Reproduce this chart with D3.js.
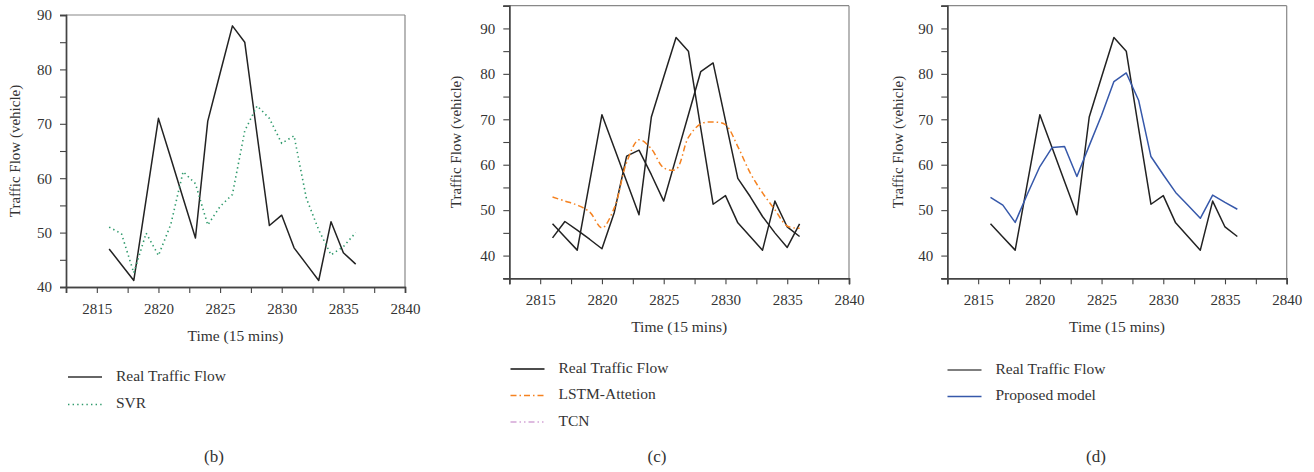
<!DOCTYPE html>
<html>
<head>
<meta charset="utf-8">
<script src="https://cdn.jsdelivr.net/npm/d3@7/dist/d3.min.js"></script>
<style>
  html, body { margin: 0; padding: 0; background: #fff; }
  svg { display: block; }
  text { font-family: "Liberation Serif", "Times New Roman", serif; fill: #333; }
</style>
</head>
<body>
<svg id="chart" width="1314" height="472"></svg>
<script>
// ---- data ----
const time = [2816, 2817, 2818, 2819, 2820, 2821, 2822, 2823, 2824, 2825, 2826,
              2827, 2828, 2829, 2830, 2831, 2832, 2833, 2834, 2835, 2836];
const realFlow = [47.0, 44.1, 41.2, 56.1, 71.0, 63.7, 56.3, 49.0, 70.5, 79.3, 88.0,
                  85.0, 68.0, 51.3, 53.2, 47.2, 44.2, 41.2, 52.0, 46.3, 44.2];
const svr = [51.0, 49.8, 42.6, 49.9, 45.8, 51.5, 61.2, 59.0, 51.4, 54.8, 57.0,
             68.7, 73.3, 71.0, 66.4, 67.8, 56.3, 50.5, 45.9, 47.4, 50.0];
const lstmAttention = [52.9, 52.0, 51.1, 49.6, 46.1, 50.5, 60.5, 65.5, 63.5, 59.3, 59.0,
                       66.0, 69.0, 69.4, 68.8, 64.0, 58.2, 53.8, 50.1, 46.5, 46.0];
const tcn = [43.9, 47.5, 45.6, 43.6, 41.5, 49.5, 61.9, 63.2, 57.8, 52.0, 61.5,
             71.0, 80.5, 82.4, 69.7, 57.0, 53.0, 48.6, 45.0, 41.8, 47.0];
const proposed = [52.8, 51.1, 47.3, 53.6, 59.6, 63.8, 64.0, 57.4, 64.2, 70.9, 78.3,
                  80.2, 74.2, 61.8, 57.8, 53.9, 51.1, 48.2, 53.3, 51.7, 50.2];
const xTicks = [2815, 2820, 2825, 2830, 2835, 2840];
const xMinorTicks = [2812.5, 2817.5, 2822.5, 2827.5, 2832.5, 2837.5];
const yTicks = [40, 50, 60, 70, 80, 90];
const xLabel = "Time (15 mins)";
const yLabel = "Traffic Flow (vehicle)";

const svg = d3.select("#chart");

function zip(ys) { return time.map((t, i) => ({ t, v: ys[i] })); }

function drawPanel(p) {
  const g = svg.append("g").attr("transform", `translate(${p.left},${p.top})`);
  const x = d3.scaleLinear().domain([2812.5, 2840]).range([0, p.w]);
  const y = d3.scaleLinear().domain(p.yDomain).range([p.h, 0]);

  // frame top/right
  g.append("line").attr("x1", 0).attr("x2", p.w).attr("y1", 0).attr("y2", 0)
    .attr("stroke", "#888").attr("stroke-width", 1.2);
  g.append("line").attr("x1", p.w).attr("x2", p.w).attr("y1", 0).attr("y2", p.h)
    .attr("stroke", "#888").attr("stroke-width", 1.2);

  const yMinor = d3.range(p.yDomain[0], p.yDomain[1] + 0.01, 5).filter(v => v % 10 !== 0);

  const xa = g.append("g").attr("transform", `translate(0,${p.h})`)
    .call(d3.axisBottom(x).tickValues(xTicks).tickSize(6).tickPadding(10).tickFormat(d3.format("d")));
  g.append("g").attr("transform", `translate(0,${p.h})`)
    .call(d3.axisBottom(x).tickValues(xMinorTicks).tickSize(6).tickFormat(""));
  const ya = g.append("g")
    .call(d3.axisLeft(y).tickValues(yTicks).tickSize(6).tickPadding(8));
  g.append("g")
    .call(d3.axisLeft(y).tickValues(yMinor).tickSize(6).tickFormat(""));

  g.selectAll(".domain").attr("stroke", "#444").attr("stroke-width", 1.4);
  g.selectAll(".tick line").attr("stroke", "#444").attr("stroke-width", 1.1);
  g.selectAll(".tick text").style("font-size", "15px")
    .style("font-family", '"Liberation Serif", serif').attr("fill", "#333");

  g.append("text").attr("x", p.w / 2).attr("y", p.h + 50)
    .attr("text-anchor", "middle").attr("dominant-baseline", "middle")
    .style("font-size", "15.5px").text(xLabel);
  g.append("text")
    .attr("transform", `translate(${-p.yTitle},${p.h / 2}) rotate(-90)`)
    .attr("text-anchor", "middle").attr("dominant-baseline", "middle")
    .style("font-size", "15px").text(yLabel);

  p.series.forEach(s => {
    const line = d3.line().x(d => x(d.t)).y(d => y(d.v)).curve(s.curve || d3.curveLinear);
    g.append("path").datum(zip(s.values))
      .attr("fill", "none").attr("stroke", s.color).attr("stroke-width", s.width || 1.5)
      .attr("stroke-dasharray", s.dash || null)
      .attr("stroke-linecap", s.cap || "butt")
      .attr("stroke-linejoin", "round")
      .attr("d", line);
  });

  // legend
  p.legend.forEach((l, i) => {
    const ly = p.legendY + i * p.legendGap;
    svg.append("line").attr("x1", p.legendX).attr("x2", p.legendX + 34)
      .attr("y1", ly).attr("y2", ly)
      .attr("stroke", l.color).attr("stroke-width", 1.6)
      .attr("stroke-dasharray", l.dash || null);
    svg.append("text").attr("x", p.legendX + 48).attr("y", ly)
      .attr("dominant-baseline", "middle").style("font-size", "15.5px").text(l.name);
  });
  svg.append("text").attr("x", p.labelX).attr("y", 458)
    .attr("text-anchor", "middle").attr("dominant-baseline", "middle")
    .style("font-size", "17px").text(p.label);
}

const realColor = "#222";
drawPanel({
  left: 66, top: 15, w: 339, h: 272, yDomain: [40, 90], yTitle: 49,
  series: [
    { values: realFlow, color: realColor },
    { values: svr, color: "#2f9a6c", dash: "1.4,3.2", width: 1.6 }
  ],
  legend: [
    { name: "Real Traffic Flow", color: "#333" },
    { name: "SVR", color: "#2f9a6c", dash: "1.4,3.2" }
  ],
  legendX: 68, legendY: 377, legendGap: 27.5, labelX: 214, label: "(b)"
});

drawPanel({
  left: 509.3, top: 5.7, w: 339.7, h: 272.6, yDomain: [35, 95], yTitle: 52,
  series: [
    { values: realFlow, color: realColor },
    { values: tcn, color: realColor },
    { values: lstmAttention, color: "#f58220", dash: "6,3,1.5,3", curve: d3.curveCatmullRom }
  ],
  legend: [
    { name: "Real Traffic Flow", color: "#111" },
    { name: "LSTM-Attetion", color: "#f58220", dash: "6,3,1.5,3" },
    { name: "TCN", color: "#d4a5d6", dash: "6,3,1.5,3,1.5,3" }
  ],
  legendX: 510.5, legendY: 369, legendGap: 26.5, labelX: 657, label: "(c)"
});

drawPanel({
  left: 947.3, top: 5.7, w: 339.4, h: 272.6, yDomain: [35, 95], yTitle: 48,
  series: [
    { values: realFlow, color: realColor },
    { values: proposed, color: "#3658aa" }
  ],
  legend: [
    { name: "Real Traffic Flow", color: "#555" },
    { name: "Proposed model", color: "#3658aa" }
  ],
  legendX: 947.5, legendY: 370, legendGap: 26.5, labelX: 1096, label: "(d)"
});
</script>
</body>
</html>
